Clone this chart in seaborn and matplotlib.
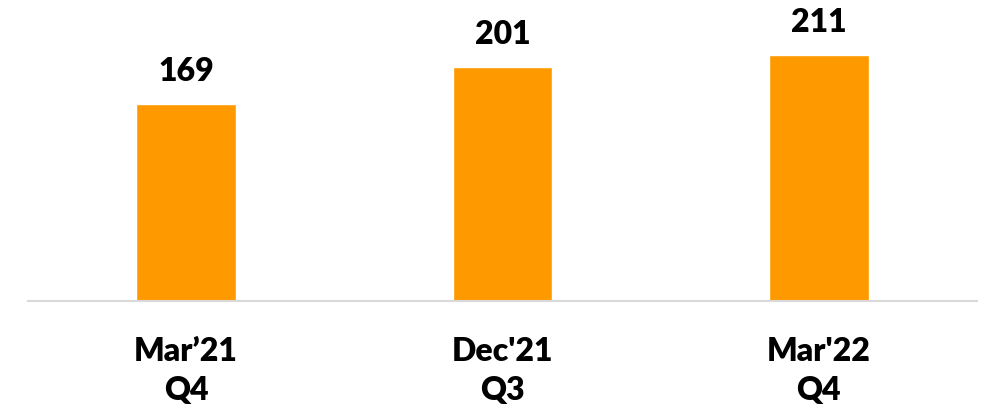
import seaborn as sns
import pandas as pd
from matplotlib import pyplot as plt

periods = ["Mar\u201921\nQ4", "Dec'21\nQ3", "Mar'22\nQ4"]
values = [169, 201, 211]

sns.set_style("white")
plt.rcParams['font.family'] = ['Lato', 'DejaVu Sans']

df = pd.DataFrame({'period': periods, 'value': values})

fig = plt.figure(figsize=(9.87, 4.12), dpi=100)
ax = fig.add_axes([28 / 987, 111 / 412, 949 / 987, 301 / 412])
sns.barplot(data=df, x='period', y='value', color='#FF9900', width=0.316,
            saturation=1, ax=ax)

ax.set_xlim(-0.5, 2.5)
ax.set_ylim(0, 258.6)
for s in ['top', 'right', 'left']:
    ax.spines[s].set_visible(False)
ax.spines['bottom'].set_color('#D9D9D9')
ax.spines['bottom'].set_linewidth(1.5)
ax.set_yticks([])
ax.set_xlabel('')
ax.set_ylabel('')
ax.tick_params(axis='x', length=0, pad=26, labelcolor='black')
for lbl in ax.get_xticklabels():
    lbl.set_fontsize(23)
    lbl.set_fontweight('heavy')
    lbl.set_linespacing(1.42)

for i, v in enumerate(values):
    ax.annotate(str(v), (i, v), xytext=(0, 13), textcoords='offset points',
                ha='center', va='bottom', fontsize=23, fontweight='heavy',
                color='black')

fig.savefig('out.png', dpi=100)
